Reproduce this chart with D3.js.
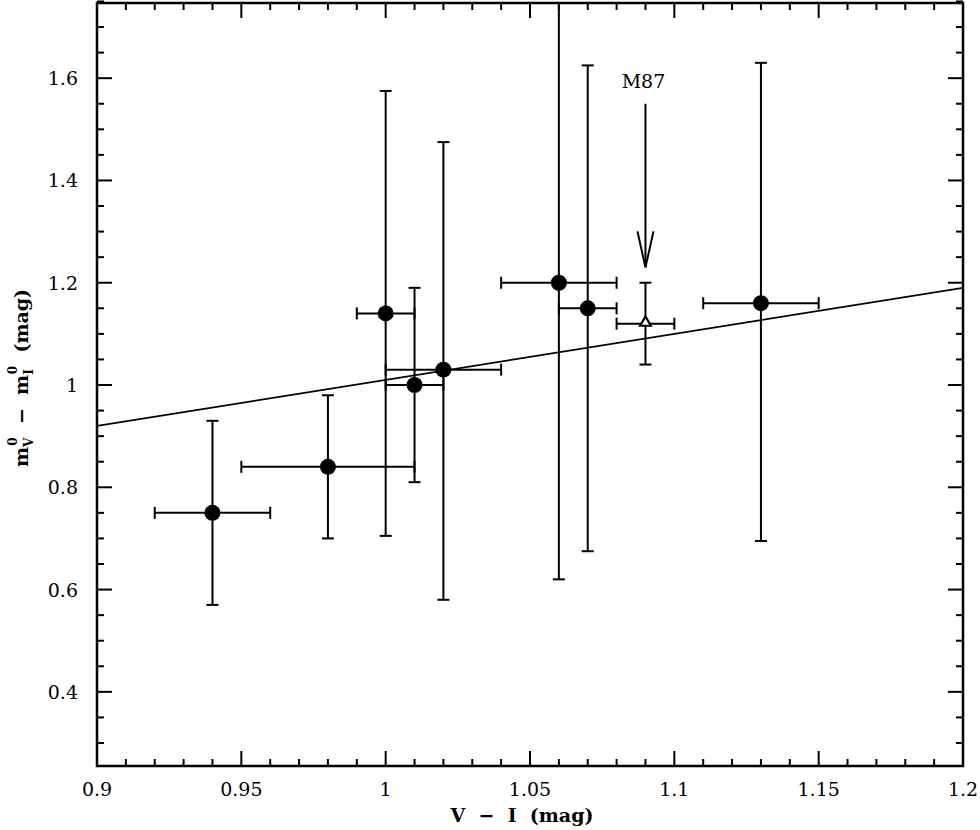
<!DOCTYPE html>
<html><head><meta charset="utf-8">
<script src="https://cdn.jsdelivr.net/npm/d3@7"></script>
<style>body{margin:0;background:#fff}svg{display:block}text{white-space:pre}</style>
</head><body>
<svg id="c" width="980" height="830"></svg>
<script>
// data: V-I colour vs mV0 - mI0
const names  = ["g1","g2","g3","g4","g5","g6","g7","g8"];
const xVals  = [0.94, 0.98, 1.00, 1.01, 1.02, 1.06, 1.07, 1.13];
const yVals  = [0.75, 0.84, 1.14, 1.00, 1.03, 1.20, 1.15, 1.16];
const xLo    = [0.92, 0.95, 0.99, 1.00, 1.00, 1.04, 1.06, 1.11];
const xHi    = [0.96, 1.01, 1.01, 1.02, 1.04, 1.08, 1.08, 1.15];
const yLo    = [0.57, 0.70, 0.705, 0.81, 0.58, 0.62, 0.675, 0.695];
const yHi    = [0.93, 0.98, 1.575, 1.19, 1.475, 1.78, 1.625, 1.63];
// M87 (open triangle)
const m87 = {x: 1.09, y: 1.12, xLo: 1.08, xHi: 1.10, yLo: 1.04, yHi: 1.20};
const arrowFrom = 1.55, arrowTo = 1.23;
// fitted line endpoints
const fitX = [0.9, 1.2];
const fitY = [0.92, 1.19];
const xTicks = [0.9, 0.95, 1, 1.05, 1.1, 1.15, 1.2];
const yTicks = [0.4, 0.6, 0.8, 1, 1.2, 1.4, 1.6];

const svg = d3.select("#c");
const L = 97, R = 963, T = 3, B = 766;
const x = d3.scaleLinear().domain([0.9, 1.2]).range([L, R]);
const y = d3.scaleLinear().domain([0.255, 1.747]).range([B, T]);
const font = "'DejaVu Serif', 'Liberation Serif', serif";

svg.append("defs").append("clipPath").attr("id","clip")
  .append("rect").attr("x",L).attr("y",T).attr("width",R-L).attr("height",B-T);

const sw = 2;
// frame
svg.append("rect").attr("x",L).attr("y",T).attr("width",R-L).attr("height",B-T)
  .attr("fill","none").attr("stroke","#000").attr("stroke-width",2.5);

// ticks
const xMinor = d3.range(0.90, 1.2001, 0.01).map(v=>+v.toFixed(2));
const yMinor = d3.range(0.30, 1.7501, 0.05).map(v=>+v.toFixed(2));
const isMajX = v => Math.abs(v*20 - Math.round(v*20)) < 1e-6;
const isMajY = v => Math.abs(v*5 - Math.round(v*5)) < 1e-6;
const tg = svg.append("g").attr("stroke","#000").attr("stroke-width",2);
xMinor.forEach(v=>{
  const len = isMajX(v)?15:7;
  tg.append("line").attr("x1",x(v)).attr("x2",x(v)).attr("y1",B).attr("y2",B-len);
  tg.append("line").attr("x1",x(v)).attr("x2",x(v)).attr("y1",T).attr("y2",T+len);
});
yMinor.forEach(v=>{
  const len = isMajY(v)?15:7;
  tg.append("line").attr("y1",y(v)).attr("y2",y(v)).attr("x1",L).attr("x2",L+len);
  tg.append("line").attr("y1",y(v)).attr("y2",y(v)).attr("x1",R).attr("x2",R-len);
});

// tick labels
const fmt = v => String(+v.toFixed(2));
svg.append("g").selectAll("text").data(xTicks).join("text")
  .attr("x",d=>x(d)).attr("y",796).attr("text-anchor","middle")
  .attr("font-family",font).attr("font-size",19).text(fmt);
svg.append("g").selectAll("text").data(yTicks).join("text")
  .attr("x",78).attr("y",d=>y(d)+7).attr("text-anchor","end")
  .attr("font-family",font).attr("font-size",19).text(fmt);

// axis labels
svg.append("text").attr("x",522).attr("y",822).attr("text-anchor","middle")
  .attr("font-family",font).attr("font-size",19).attr("font-weight","bold")
  .text("V  \u2212  I  (mag)");
const yl = svg.append("text").attr("transform","translate(28,378) rotate(-90)")
  .attr("text-anchor","middle").attr("font-family",font).attr("font-size",19).attr("font-weight","bold");
yl.append("tspan").text("m");
yl.append("tspan").attr("font-size",12).attr("dy",5).text("V");
yl.append("tspan").attr("font-size",12).attr("dy",-16).attr("dx",-8).text("0");
yl.append("tspan").attr("dy",11).text("  \u2212  m");
yl.append("tspan").attr("font-size",12).attr("dy",5).text("I");
yl.append("tspan").attr("font-size",12).attr("dy",-16).attr("dx",-5).text("0");
yl.append("tspan").attr("dy",11).text("  (mag)");

const g = svg.append("g").attr("clip-path","url(#clip)");
// fit line
g.append("line").attr("x1",x(fitX[0])).attr("y1",y(fitY[0])).attr("x2",x(fitX[1])).attr("y2",y(fitY[1]))
  .attr("stroke","#000").attr("stroke-width",1.8);

const cap = 6;
const pts = names.map((n,i)=>({x:xVals[i],y:yVals[i],xLo:xLo[i],xHi:xHi[i],yLo:yLo[i],yHi:yHi[i]}));
function errBars(d){
  const e = g.append("g").attr("stroke","#000").attr("stroke-width",sw);
  e.append("line").attr("x1",x(d.xLo)).attr("x2",x(d.xHi)).attr("y1",y(d.y)).attr("y2",y(d.y));
  e.append("line").attr("x1",x(d.xLo)).attr("x2",x(d.xLo)).attr("y1",y(d.y)-cap).attr("y2",y(d.y)+cap);
  e.append("line").attr("x1",x(d.xHi)).attr("x2",x(d.xHi)).attr("y1",y(d.y)-cap).attr("y2",y(d.y)+cap);
  e.append("line").attr("x1",x(d.x)).attr("x2",x(d.x)).attr("y1",y(d.yLo)).attr("y2",y(d.yHi));
  e.append("line").attr("x1",x(d.x)-cap).attr("x2",x(d.x)+cap).attr("y1",y(d.yLo)).attr("y2",y(d.yLo));
  e.append("line").attr("x1",x(d.x)-cap).attr("x2",x(d.x)+cap).attr("y1",y(d.yHi)).attr("y2",y(d.yHi));
}
pts.forEach(errBars);
errBars(m87);
g.selectAll("circle.pt").data(pts).join("circle").attr("class","pt")
  .attr("cx",d=>x(d.x)).attr("cy",d=>y(d.y)).attr("r",8).attr("fill","#000");
// M87 open triangle
g.append("path").attr("d",d3.symbol(d3.symbolTriangle,50)())
  .attr("transform",`translate(${x(m87.x)},${y(m87.y)-1})`)
  .attr("fill","#fff").attr("stroke","#000").attr("stroke-width",2.2);

// arrow and label
const ax = x(m87.x);
const ag = svg.append("g").attr("stroke","#000").attr("stroke-width",2).attr("fill","none");
ag.append("line").attr("x1",ax).attr("x2",ax).attr("y1",y(arrowFrom)).attr("y2",y(arrowTo));
ag.append("path").attr("d",`M${ax-8},${y(arrowTo)-36} L${ax},${y(arrowTo)} L${ax+8},${y(arrowTo)-36}`);
svg.append("text").attr("x",ax-2).attr("y",y(arrowFrom)-16).attr("text-anchor","middle")
  .attr("font-family",font).attr("font-size",19).text("M87");
</script>
</body></html>
